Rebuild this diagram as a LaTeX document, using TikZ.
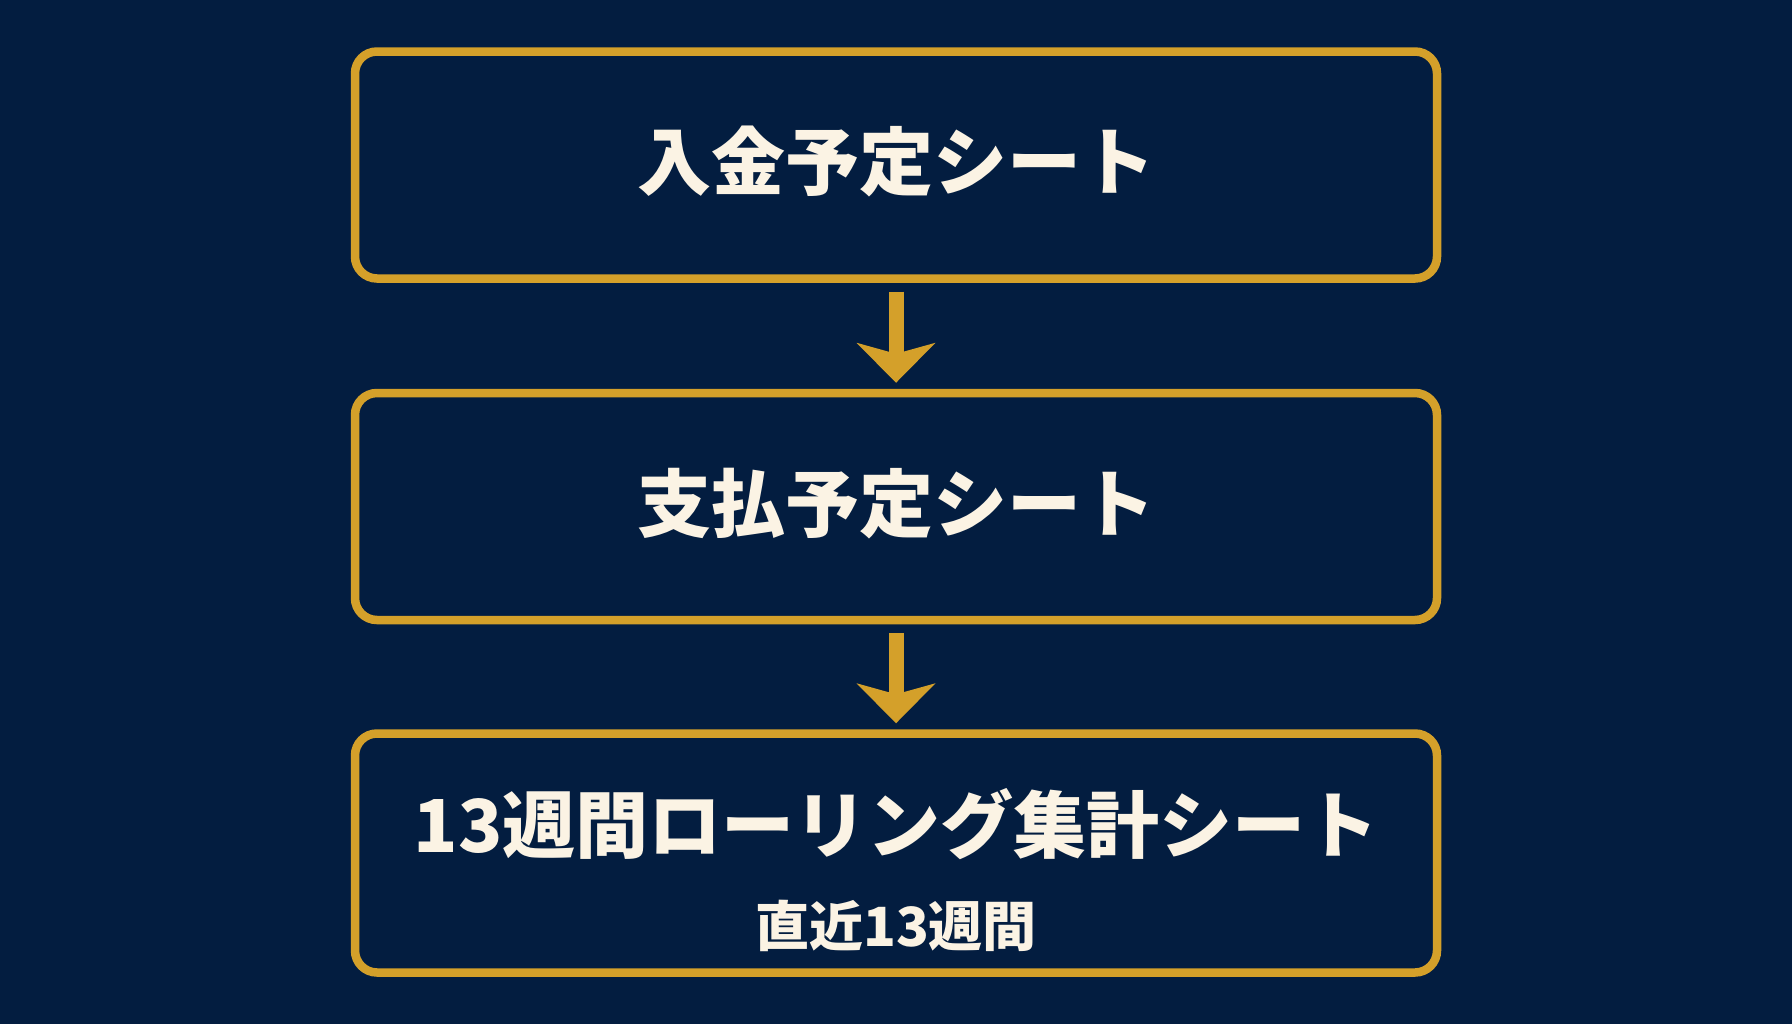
\documentclass[tikz,border=0pt]{standalone}
\usepackage{fontspec}
\setmainfont{Noto Sans CJK JP}
\usepackage{tikz}
\usetikzlibrary{positioning}
\usetikzlibrary{arrows.meta}
\usepackage{xcolor}
\definecolor{navy}{HTML}{031D40}
\definecolor{gold}{HTML}{D4A02A}
\definecolor{cream}{HTML}{FBF3E4}

\begin{document}
\begin{tikzpicture}[
sheet/.style={draw=gold, line width=4.25pt, rounded corners=11pt,
  minimum width=541pt, minimum height=113.5pt, inner sep=0pt},
caption/.style={text=cream, inner sep=0pt, font=\bfseries\fontsize{37}{40}\selectfont},
flow/.style={draw=gold, line width=7.5pt,
  -{Stealth[length=20pt, width=39.5pt, inset=5.5pt, line width=0pt]},
  shorten <=4.4pt, shorten >=3pt}]

% background and page size
\fill[navy] (0,0) rectangle (896pt,-512pt);
\useasboundingbox (0,0) rectangle (896pt,-512pt);

\node[sheet] (in) at (448pt,-82.5pt) {};
\node[sheet, below=53pt of in] (pay) {};
\node[sheet, below=52.5pt of pay, minimum height=119.5pt] (sum) {};

\node[caption] (inT) at ([yshift=2pt]in.center) {入金予定シート};
\node[caption] (payT) at ([yshift=1.5pt]pay.center) {支払予定シート};
\node[caption, font=\bfseries\fontsize{36.5}{40}\selectfont] (sumT)
  at ([yshift=14.25pt]sum.center) {13週間ローリング集計シート};
\node[caption, font=\bfseries\fontsize{27}{30}\selectfont] (sumS)
  at ([yshift=-36.25pt]sum.center) {直近13週間};

\draw[flow] (in.south) -- (pay.north);
\draw[flow] (pay.south) -- (sum.north);
\end{tikzpicture}
\end{document}
